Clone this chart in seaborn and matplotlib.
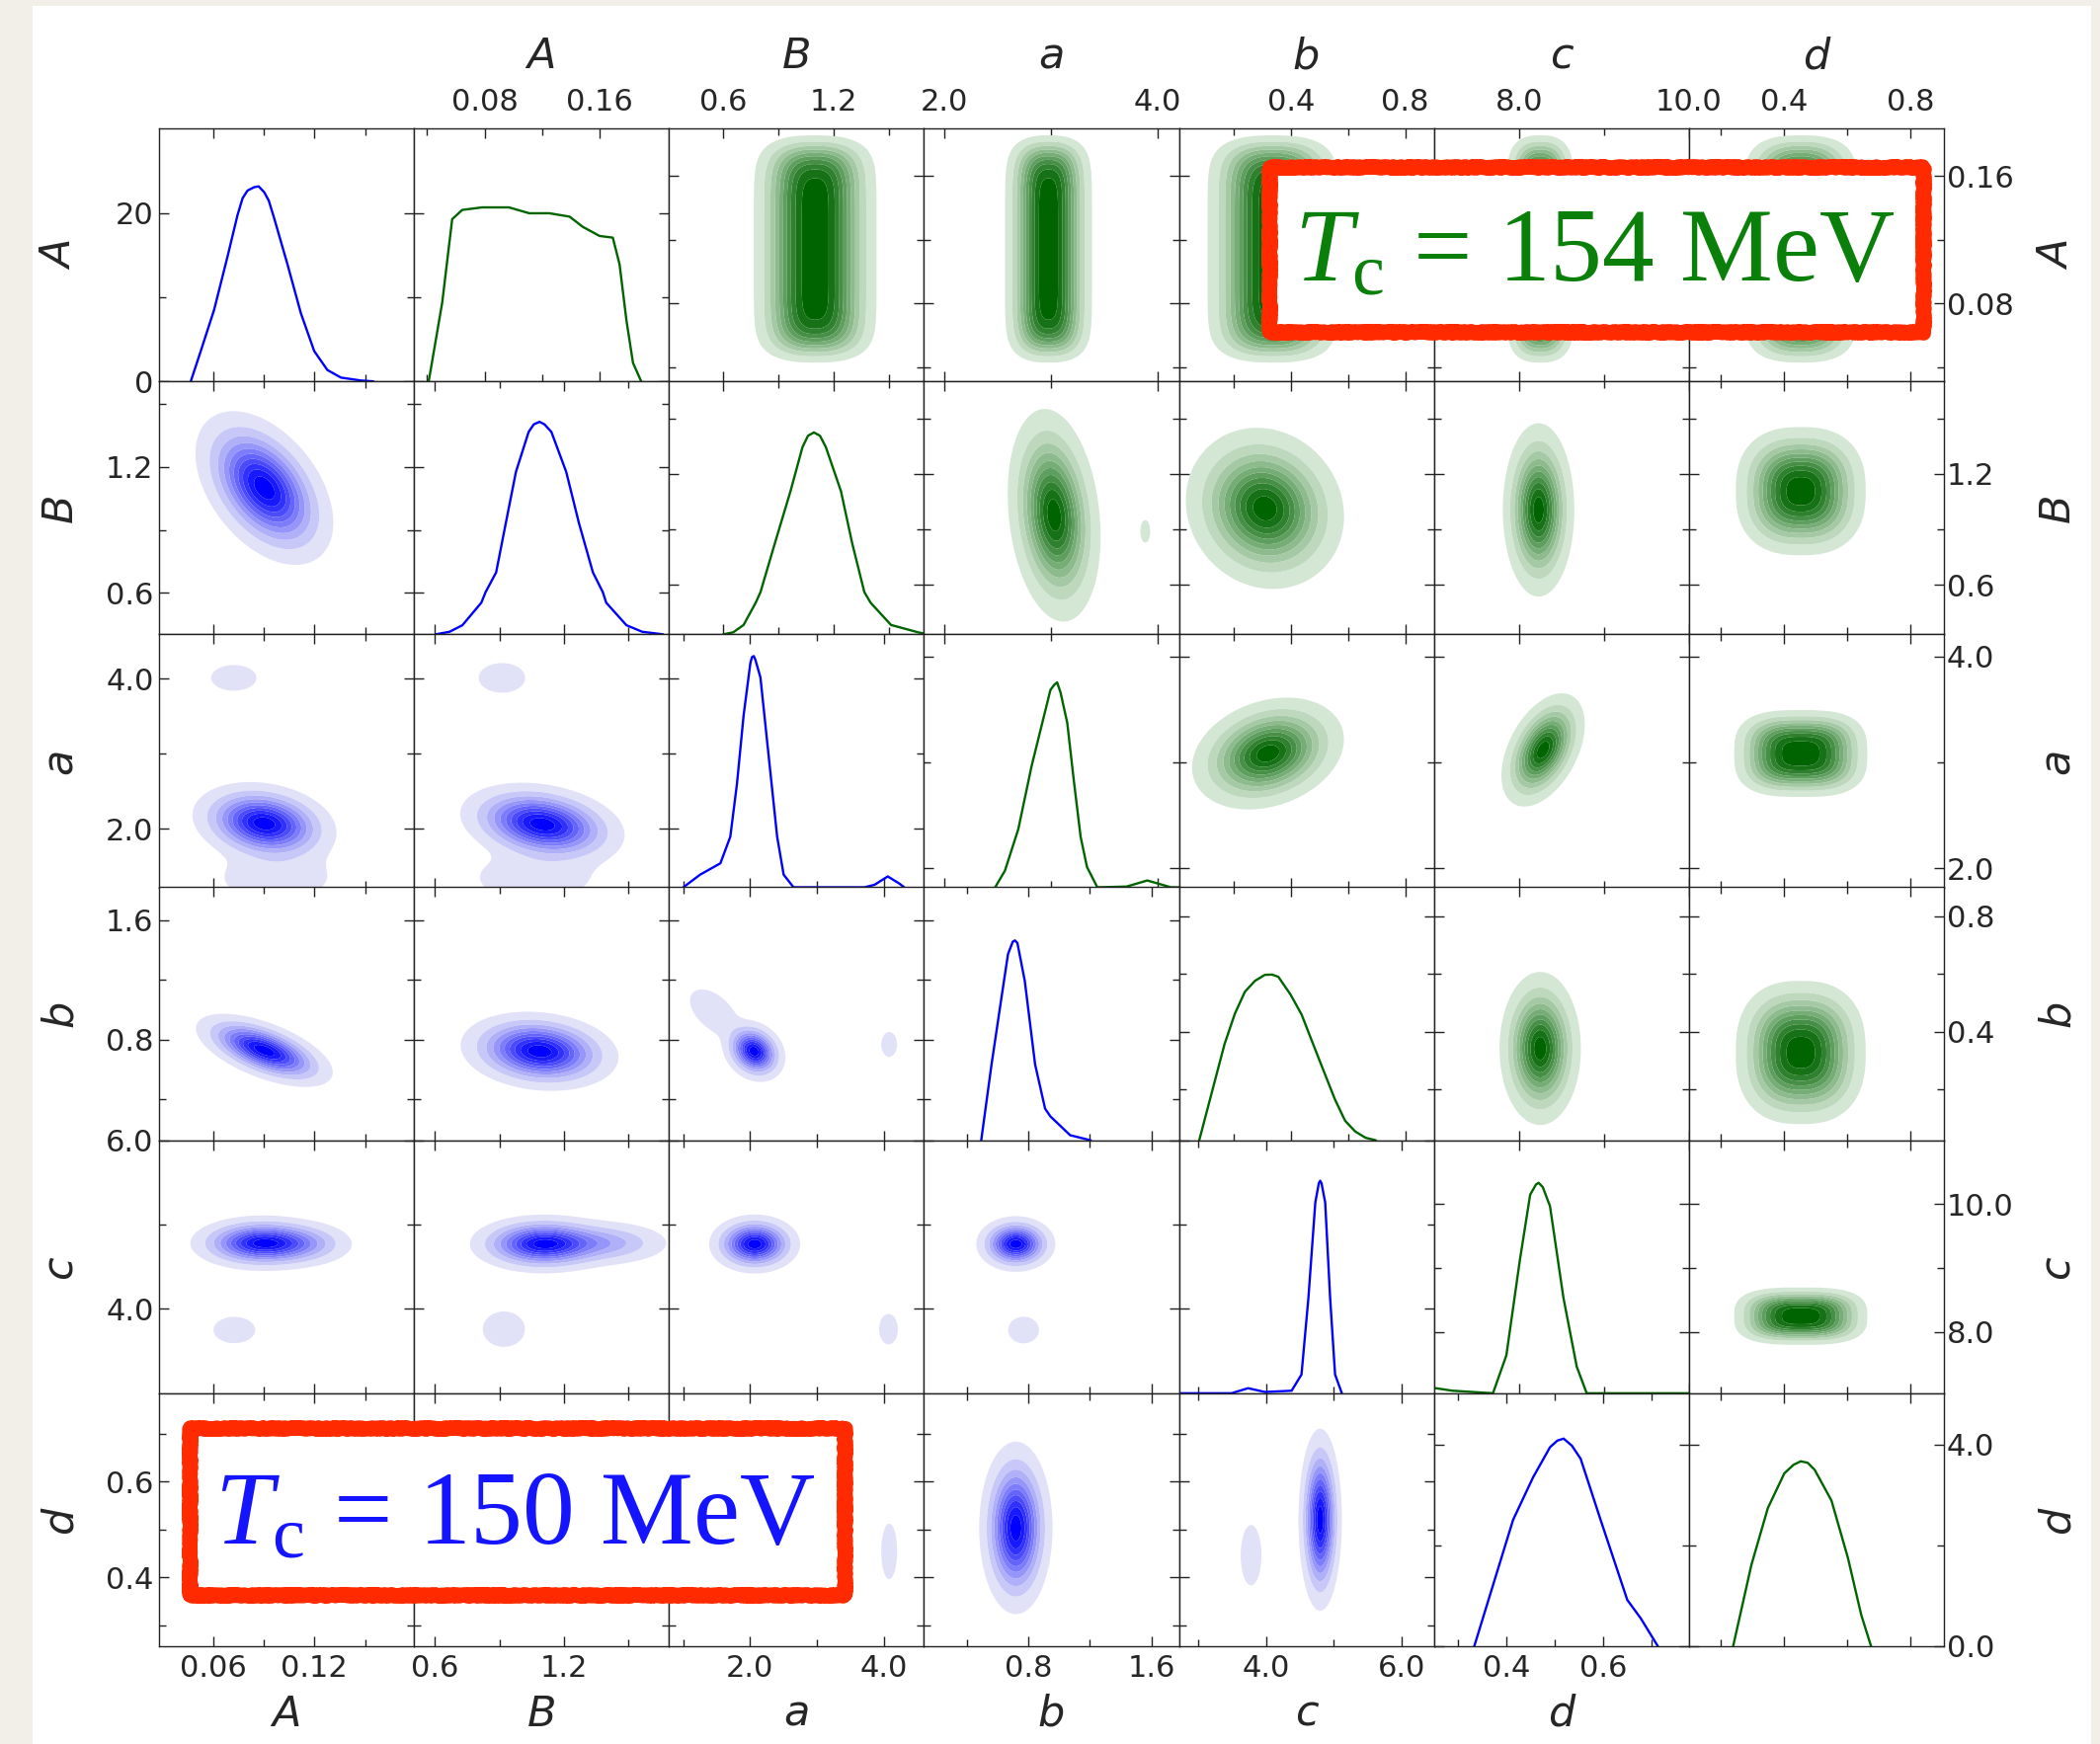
import numpy as np
import matplotlib
matplotlib.use("Agg")
import matplotlib.pyplot as plt
import seaborn as sns
from matplotlib.colors import LinearSegmentedColormap
from matplotlib.patches import Rectangle

sns.set_style("ticks")
plt.rcParams["font.family"] = ["DejaVu Sans"]
plt.rcParams["mathtext.fontset"] = "custom"
plt.rcParams["mathtext.rm"] = "Liberation Serif"
plt.rcParams["mathtext.it"] = "Liberation Serif:italic"

W, H = 2126, 1766

# ---------------- data ----------------
VARS = ["A", "B", "a", "b", "c", "d"]

# axis ranges (blue = Tc 150 MeV, lower triangle; green = Tc 154 MeV, upper triangle)
BLUE_XLIM = [(0.028, 0.179), (0.503, 1.689), (0.79, 4.6), (0.123, 1.78), (2.715, 6.48), (0.251, 0.776)]
BLUE_YLIM = [(0.0, 30.1), (0.403, 1.608), (1.22, 4.59), (0.126, 1.82), (3.0, 6.0), (0.256, 0.784)]
GREEN_XLIM = [(0.031, 0.208), (0.305, 1.69), (1.81, 4.2), (0.01, 0.90), (7.0, 10.0), (0.1, 0.905)]
GREEN_YLIM = [(0.031, 0.19), (0.334, 1.70), (1.82, 4.21), (0.024, 0.90), (7.04, 11.0), (0.0, 5.02)]
DENS_TOP_LIM = (0.0, 30.1)
DENS_BOT_LIM = (0.0, 5.02)

BLUE_TICKS = [[0.06, 0.12], [0.6, 1.2], [2.0, 4.0], [0.8, 1.6], [4.0, 6.0], [0.4, 0.6]]
BLUE_TICKLABELS = [["0.06", "0.12"], ["0.6", "1.2"], ["2.0", "4.0"], ["0.8", "1.6"], ["4.0", "6.0"], ["0.4", "0.6"]]
BLUE_MINOR = [[0.09, 0.15], [0.9, 1.5], [1.0, 3.0], [0.4, 1.2], [3.0, 5.0], [0.3, 0.5, 0.7]]
GREEN_TICKS = [[0.08, 0.16], [0.6, 1.2], [2.0, 4.0], [0.4, 0.8], [8.0, 10.0], [0.4, 0.8]]
GREEN_TICKLABELS = [["0.08", "0.16"], ["0.6", "1.2"], ["2.0", "4.0"], ["0.4", "0.8"], ["8.0", "10.0"], ["0.4", "0.8"]]
GREEN_MINOR = [[0.04, 0.12], [0.9, 1.5], [3.0], [0.2, 0.6], [9.0], [0.2, 0.6]]
DENS_TOP_TICKS, DENS_TOP_LABELS, DENS_TOP_MINOR = [0, 20], ["0", "20"], [10]
DENS_BOT_TICKS, DENS_BOT_LABELS, DENS_BOT_MINOR = [0.0, 4.0], ["0.0", "4.0"], [2.0]

# 1D marginals (diagonal panels). A and d in density units, others in panel-height fraction
BLUE_A_X = [0.0468, 0.0527, 0.0606, 0.0685, 0.0745, 0.0775, 0.0804, 0.0843, 0.087, 0.0903, 0.093, 0.0962, 0.1041, 0.112, 0.1199, 0.1277, 0.1357, 0.1475, 0.155]
BLUE_A_Y = [0, 3.6, 8.5, 14.8, 19.8, 21.8, 22.7, 23.1, 23.2, 22.5, 21.5, 19.4, 13.9, 8.1, 3.6, 1.35, 0.45, 0.1, 0]
BLUE_B_X = [0.604, 0.668, 0.728, 0.816, 0.836, 0.885, 0.93, 0.977, 1.036, 1.06, 1.087, 1.11, 1.142, 1.211, 1.27, 1.335, 1.381, 1.397, 1.491, 1.565, 1.661]
BLUE_B_Y = [0, 0.01, 0.036, 0.125, 0.167, 0.245, 0.44, 0.642, 0.80, 0.83, 0.84, 0.83, 0.80, 0.642, 0.44, 0.245, 0.167, 0.125, 0.036, 0.01, 0]
BLUE_a_X = [1.004, 1.255, 1.558, 1.706, 1.806, 1.905, 2.006, 2.03, 2.056, 2.08, 2.156, 2.257, 2.406, 2.503, 2.651, 3.709, 3.862, 4.059, 4.23, 4.305]
BLUE_a_Y = [0, 0.05, 0.095, 0.2, 0.41, 0.68, 0.887, 0.91, 0.914, 0.90, 0.83, 0.575, 0.2, 0.05, 0, 0, 0.01, 0.043, 0.015, 0]
BLUE_b_X = [0.495, 0.562, 0.628, 0.669, 0.70, 0.714, 0.73, 0.778, 0.845, 0.910, 0.945, 1.073, 1.206]
BLUE_b_Y = [0, 0.30, 0.57, 0.736, 0.785, 0.79, 0.78, 0.63, 0.30, 0.125, 0.094, 0.02, 0]
BLUE_c_X = [2.715, 3.49, 3.736, 3.984, 4.378, 4.524, 4.626, 4.728, 4.78, 4.8, 4.82, 4.874, 4.947, 5.02, 5.12]
BLUE_c_Y = [0, 0, 0.02, 0.005, 0.01, 0.074, 0.376, 0.754, 0.83, 0.84, 0.83, 0.754, 0.376, 0.074, 0]
BLUE_d_X = [0.334, 0.373, 0.414, 0.455, 0.49, 0.505, 0.518, 0.535, 0.553, 0.594, 0.649, 0.677, 0.712]
BLUE_d_Y = [0, 1.225, 2.51, 3.35, 3.95, 4.08, 4.12, 3.98, 3.72, 2.51, 0.92, 0.55, 0]

GREEN_A_X = [0.0412, 0.0506, 0.0575, 0.0645, 0.0783, 0.0969, 0.111, 0.125, 0.139, 0.148, 0.1598, 0.169, 0.1737, 0.1785, 0.183, 0.1887]
GREEN_A_Y = [0, 9.4, 19.3, 20.4, 20.7, 20.7, 20.0, 20.0, 19.6, 18.4, 17.3, 17.1, 13.9, 7.2, 2.2, 0]
GREEN_B_X = [0.60, 0.654, 0.710, 0.776, 0.802, 0.88, 0.965, 1.03, 1.06, 1.092, 1.125, 1.157, 1.239, 1.30, 1.366, 1.40, 1.511, 1.658, 1.69]
GREEN_B_Y = [0, 0.008, 0.037, 0.125, 0.167, 0.36, 0.566, 0.74, 0.785, 0.798, 0.785, 0.74, 0.566, 0.36, 0.167, 0.125, 0.037, 0.008, 0.003]
GREEN_a_X = [2.477, 2.569, 2.694, 2.819, 2.995, 3.03, 3.058, 3.09, 3.153, 3.215, 3.278, 3.338, 3.435, 3.71, 3.903, 4.125, 4.2]
GREEN_a_Y = [0, 0.066, 0.23, 0.48, 0.78, 0.80, 0.81, 0.77, 0.65, 0.42, 0.2, 0.08, 0, 0.003, 0.027, 0, 0]
GREEN_b_X = [0.0807, 0.169, 0.205, 0.240, 0.275, 0.310, 0.335, 0.357, 0.40, 0.438, 0.48, 0.521, 0.555, 0.590, 0.625, 0.661, 0.697]
GREEN_b_Y = [0, 0.38, 0.50, 0.587, 0.63, 0.654, 0.655, 0.646, 0.575, 0.497, 0.375, 0.257, 0.16, 0.077, 0.035, 0.01, 0]
GREEN_c_X = [7.0, 7.02, 7.22, 7.694, 7.852, 8.011, 8.132, 8.2, 8.231, 8.28, 8.365, 8.524, 8.68, 8.797, 10.0]
GREEN_c_Y = [0.02, 0.02, 0.01, 0, 0.15, 0.527, 0.785, 0.825, 0.832, 0.815, 0.74, 0.376, 0.105, 0, 0]
GREEN_d_X = [0.2395, 0.297, 0.349, 0.401, 0.43, 0.453, 0.475, 0.497, 0.55, 0.602, 0.644, 0.675]
GREEN_d_Y = [0, 1.61, 2.74, 3.43, 3.6, 3.67, 3.64, 3.5, 2.89, 1.75, 0.62, 0]

BLUE_DIAG = [(BLUE_A_X, BLUE_A_Y), (BLUE_B_X, BLUE_B_Y), (BLUE_a_X, BLUE_a_Y),
             (BLUE_b_X, BLUE_b_Y), (BLUE_c_X, BLUE_c_Y), (BLUE_d_X, BLUE_d_Y)]
GREEN_DIAG = [(GREEN_A_X, GREEN_A_Y), (GREEN_B_X, GREEN_B_Y), (GREEN_a_X, GREEN_a_Y),
              (GREEN_b_X, GREEN_b_Y), (GREEN_c_X, GREEN_c_Y), (GREEN_d_X, GREEN_d_Y)]

# 2D posterior blobs: row, col, centre x, centre y, outer half-width x, outer half-height y,
# correlation, relative weight, shape exponent x, shape exponent y
BLUE_BLOBS = [
    (1, 0, 0.0904, 1.10, 0.0408, 0.366, -0.45, 1.0, 2, 2),
    (2, 0, 0.0904, 2.069, 0.0426, 0.553, -0.2, 1.0, 2, 2),
    (2, 0, 0.097, 1.35, 0.030, 0.30, 0.0, 0.1, 2, 2),
    (2, 0, 0.0723, 4.01, 0.0134, 0.171, 0.0, 0.1, 2, 2),
    (3, 0, 0.0904, 0.728, 0.0405, 0.245, -0.6, 1.0, 2, 2),
    (4, 0, 0.088, 4.78, 0.042, 0.33, 0.0, 1.0, 2, 2),
    (4, 0, 0.112, 4.77, 0.030, 0.25, 0.0, 0.3, 2, 2),
    (4, 0, 0.0726, 3.75, 0.013, 0.164, 0.0, 0.1, 2, 2),
    (2, 1, 1.10, 2.06, 0.382, 0.553, -0.25, 1.0, 2, 2),
    (2, 1, 1.06, 1.35, 0.25, 0.30, 0.0, 0.1, 2, 2),
    (2, 1, 0.912, 4.01, 0.108, 0.197, 0.0, 0.1, 2, 2),
    (3, 1, 1.087, 0.722, 0.367, 0.265, -0.15, 1.0, 2, 2),
    (4, 1, 1.10, 4.77, 0.34, 0.35, 0.0, 1.0, 2, 2),
    (4, 1, 1.38, 4.78, 0.30, 0.25, 0.0, 0.3, 2, 2),
    (4, 1, 0.921, 3.76, 0.101, 0.216, 0.0, 0.1, 2, 2),
    (3, 2, 2.06, 0.722, 0.47, 0.205, -0.2, 1.0, 2, 2),
    (3, 2, 1.455, 0.986, 0.35, 0.15, -0.5, 0.12, 2, 2),
    (3, 2, 4.08, 0.768, 0.118, 0.083, 0.0, 0.1, 2, 2),
    (4, 2, 2.07, 4.77, 0.68, 0.35, 0.0, 1.0, 2, 2),
    (4, 2, 4.07, 3.76, 0.14, 0.18, 0.0, 0.1, 2, 2),
    (5, 2, 4.08, 0.454, 0.118, 0.058, 0.0, 0.1, 2, 2),
    (4, 3, 0.72, 4.77, 0.257, 0.33, 0.0, 1.0, 2, 2),
    (4, 3, 0.77, 3.75, 0.10, 0.158, 0.0, 0.1, 2, 2),
    (5, 3, 0.72, 0.503, 0.238, 0.18, 0.0, 1.0, 2, 2),
    (5, 4, 4.80, 0.52, 0.32, 0.19, 0.0, 1.0, 2, 2),
    (5, 4, 3.78, 0.446, 0.153, 0.063, 0.0, 0.1, 2, 2),
]
GREEN_BLOBS = [
    (0, 2, 1.099, 0.1142, 0.333, 0.0714, 0.0, 1.0, 2.5, 8),
    (0, 3, 2.977, 0.1142, 0.407, 0.0714, 0.0, 1.0, 2.5, 8),
    (0, 4, 0.338, 0.1142, 0.228, 0.0714, 0.0, 1.0, 2.5, 8),
    (0, 5, 8.25, 0.1142, 0.40, 0.0714, 0.0, 1.0, 2.5, 8),
    (0, 6, 0.453, 0.1142, 0.18, 0.0714, 0.0, 1.0, 2.5, 8),
    (1, 3, 3.03, 0.977, 0.435, 0.574, -0.2, 1.0, 2, 2),
    (1, 3, 3.884, 0.89, 0.046, 0.061, 0.0, 0.08, 2, 2),
    (1, 4, 0.310, 1.014, 0.276, 0.435, -0.1, 1.0, 2, 2),
    (1, 5, 8.231, 1.006, 0.42, 0.468, 0.0, 1.0, 2, 2),
    (1, 6, 0.453, 1.107, 0.205, 0.346, 0.0, 1.0, 2.5, 2.5),
    (2, 4, 0.3205, 3.084, 0.265, 0.528, 0.25, 1.0, 2, 2),
    (2, 5, 8.284, 3.118, 0.49, 0.535, 0.45, 1.0, 2, 2),
    (2, 6, 0.453, 3.084, 0.21, 0.41, 0.0, 1.0, 3, 3),
    (3, 5, 8.25, 0.342, 0.478, 0.265, 0.0, 1.0, 2, 2),
    (3, 6, 0.453, 0.328, 0.205, 0.248, 0.0, 1.0, 2.5, 2.5),
    (4, 6, 0.453, 8.247, 0.21, 0.449, 0.0, 1.0, 3, 3),
]

# ---------------- style ----------------
BLUE = "#0000ff"
GREEN = "#006400"
TEXT_GREEN = "#0a800a"
RED = "#ff2a00"
LEVELS = [0.04, 0.13, 0.23, 0.33, 0.43, 0.53, 0.63, 0.73, 0.83, 0.93, 1.5]
BLUE_CMAP = LinearSegmentedColormap.from_list("bl", ["#e1e1f7", "#0000ff"])
GREEN_CMAP = LinearSegmentedColormap.from_list("gr", ["#d4e6d4", "#006400"])
TICK_FS = 22
LABEL_FS = 31

LEFT, RIGHT, TOP, BOTTOM = 161, 1968, 130, 1667


def fx(p):
    return p / W


def fy(p):
    return 1 - p / H


fig = plt.figure(figsize=(W / 100, H / 100), dpi=100)
fig.patch.set_facecolor("#f2efe9")
fig.add_artist(Rectangle((fx(33), 0), fx(2117) - fx(33), fy(6), transform=fig.transFigure,
                         facecolor="white", edgecolor="none", zorder=-20))

gs = fig.add_gridspec(6, 7, left=fx(LEFT), right=fx(RIGHT), top=fy(TOP), bottom=fy(BOTTOM),
                      wspace=0, hspace=0)


def draw_blobs(ax, xlim, ylim, comps, cmap):
    xs = np.linspace(xlim[0], xlim[1], 220)
    ys = np.linspace(ylim[0], ylim[1], 220)
    X, Y = np.meshgrid(xs, ys)
    Z = np.zeros_like(X)
    L0 = LEVELS[0]
    for (cx, cy, hx, hy, rho, w, px, py) in comps:
        k = 2 * np.log(w / L0)
        sx = hx / k ** (1 / px)
        sy = hy / k ** (1 / py)
        u = (X - cx) / sx
        v = (Y - cy) / sy
        v2 = (v - rho * u) / np.sqrt(1 - rho ** 2)
        Z += w * np.exp(-0.5 * (np.abs(u) ** px + np.abs(v2) ** py))
    Z = Z / max(1.0, Z.max())
    cols = [cmap(t) for t in np.linspace(0, 1, len(LEVELS) - 1)]
    ax.contourf(X, Y, Z, levels=LEVELS, colors=cols, antialiased=True)


def frac_ticks(ticks, lim):
    return [(t - lim[0]) / (lim[1] - lim[0]) for t in ticks]


for r in range(6):
    for c in range(7):
        ax = fig.add_subplot(gs[r, c])
        ax.set_facecolor("white")
        if c == r:
            kind = "bdiag"
        elif c == r + 1:
            kind = "gdiag"
        elif c < r:
            kind = "blue"
        else:
            kind = "green"

        # x axis
        if kind == "blue":
            xlim, xt, xl, xm = BLUE_XLIM[c], BLUE_TICKS[c], BLUE_TICKLABELS[c], BLUE_MINOR[c]
        elif kind == "bdiag":
            xlim, xt, xl, xm = BLUE_XLIM[r], BLUE_TICKS[r], BLUE_TICKLABELS[r], BLUE_MINOR[r]
        elif kind == "gdiag":
            xlim, xt, xl, xm = GREEN_XLIM[r], GREEN_TICKS[r], GREEN_TICKLABELS[r], GREEN_MINOR[r]
        else:
            xlim, xt, xl, xm = GREEN_XLIM[c - 1], GREEN_TICKS[c - 1], GREEN_TICKLABELS[c - 1], GREEN_MINOR[c - 1]

        # y axis
        if kind == "blue":
            ylim, yt, yl, ym = BLUE_YLIM[r], BLUE_TICKS[r], BLUE_TICKLABELS[r], BLUE_MINOR[r]
        elif kind == "green":
            ylim, yt, yl, ym = GREEN_YLIM[r], GREEN_TICKS[r], GREEN_TICKLABELS[r], GREEN_MINOR[r]
        else:
            if r == 0:
                ylim, yt, yl, ym = DENS_TOP_LIM, DENS_TOP_TICKS, DENS_TOP_LABELS, DENS_TOP_MINOR
            elif r == 5:
                ylim, yt, yl, ym = DENS_BOT_LIM, DENS_BOT_TICKS, DENS_BOT_LABELS, DENS_BOT_MINOR
            else:
                ref_lim = BLUE_YLIM[r] if kind == "bdiag" else GREEN_YLIM[r]
                ref_t = BLUE_TICKS[r] if kind == "bdiag" else GREEN_TICKS[r]
                ref_m = BLUE_MINOR[r] if kind == "bdiag" else GREEN_MINOR[r]
                ylim, yt, yl, ym = (0.0, 1.0), frac_ticks(ref_t, ref_lim), ["", ""], frac_ticks(ref_m, ref_lim)

        # content
        if kind == "blue":
            comps = [b[2:] for b in BLUE_BLOBS if b[0] == r and b[1] == c]
            if comps:
                draw_blobs(ax, xlim, ylim, comps, BLUE_CMAP)
        elif kind == "green":
            comps = [b[2:] for b in GREEN_BLOBS if b[0] == r and b[1] == c]
            if comps:
                draw_blobs(ax, xlim, ylim, comps, GREEN_CMAP)
        elif kind == "bdiag":
            dx, dy = BLUE_DIAG[r]
            sns.lineplot(x=dx, y=dy, ax=ax, color=BLUE, linewidth=1.7, sort=False,
                         estimator=None, legend=False)
        else:
            dx, dy = GREEN_DIAG[r]
            sns.lineplot(x=dx, y=dy, ax=ax, color=GREEN, linewidth=1.7, sort=False,
                         estimator=None, legend=False)

        ax.set_xlim(*xlim)
        ax.set_ylim(*ylim)
        ax.set_xticks(xt)
        ax.set_xticklabels(xl)
        ax.set_xticks([m for m in xm if xlim[0] < m < xlim[1]], minor=True)
        ax.set_yticks(yt)
        ax.set_yticklabels(yl)
        ax.set_yticks([m for m in ym if ylim[0] < m < ylim[1]], minor=True)
        ax.set_xlabel("")
        ax.set_ylabel("")
        ax.tick_params(which="both", direction="in", top=True, right=True, bottom=True, left=True,
                       labelbottom=False, labelleft=False, labeltop=False, labelright=False,
                       length=7, width=1.0, color="#222222", labelsize=TICK_FS)
        ax.tick_params(which="minor", length=5)
        for sp in ax.spines.values():
            sp.set_linewidth(1.0)
            sp.set_color("#222222")

        if c == 0:
            ax.tick_params(labelleft=True, pad=4)
        if c == 6:
            ax.tick_params(labelright=True, pad=2)
        if r == 5 and c <= 5:
            ax.tick_params(axis="x", labelbottom=True, pad=6)
        if r == 0 and c >= 1:
            ax.tick_params(axis="x", labeltop=True, pad=9)

# axis name labels
for k, name in enumerate(VARS):
    fig.text(fx(LEFT + 258.1 * (k + 1.5)), fy(57), name, fontsize=LABEL_FS, style="italic",
             ha="center", va="center")
    fig.text(fx(LEFT + 258.1 * (k + 0.5)), fy(1736), name, fontsize=LABEL_FS, style="italic",
             ha="center", va="center")
    yc = TOP + 256.2 * (k + 0.5)
    fig.text(fx(61), fy(yc), name, fontsize=LABEL_FS, style="italic", rotation=90,
             ha="center", va="center")
    fig.text(fx(2083), fy(yc), name, fontsize=LABEL_FS, style="italic", rotation=90,
             ha="center", va="center")


def label_box(x0, y0, x1, y1, color, value, tx, base):
    lw = 15
    rect = Rectangle((fx(x0 + lw / 2), fy(y1 - lw / 2)), (x1 - x0 - lw) / W, (y1 - y0 - lw) / H,
                     transform=fig.transFigure, facecolor="white", edgecolor=RED,
                     linewidth=lw * 0.72, zorder=10, joinstyle="round")
    rect.set_sketch_params(scale=0.9, length=3, randomness=6)
    fig.add_artist(rect)
    fig.text(fx(tx), fy(base), r"$T_{\mathrm{c}}$ = " + value + " MeV", fontsize=76,
             family="Liberation Serif", color=color, ha="left", va="baseline", zorder=11)


label_box(1277, 161, 1955, 343, TEXT_GREEN, "154", 1310, 285)
label_box(184, 1438, 862, 1622, "#1414ff", "150", 217, 1564)

fig.savefig("out.png", dpi=100)
